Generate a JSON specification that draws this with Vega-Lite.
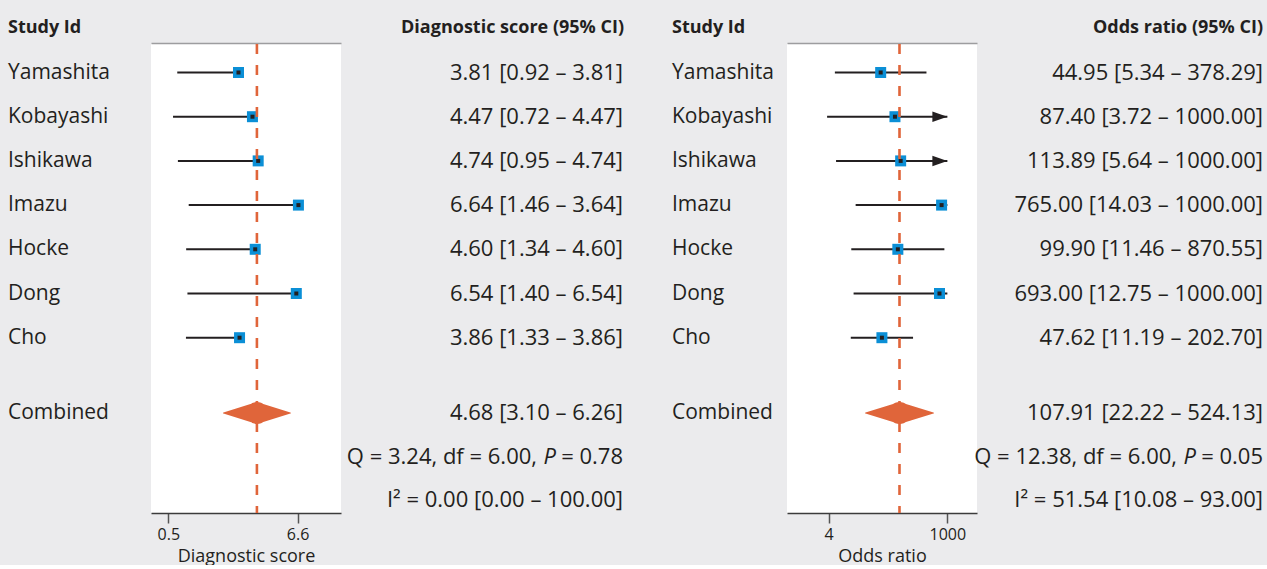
{
  "$schema": "https://vega.github.io/schema/vega-lite/v6.json",
  "background": "#ebebed",
  "padding": {"left": 8, "top": 19, "right": 0, "bottom": 0},
  "datasets": {
    "ds": [
      {"study": "Yamashita", "est": 3.81, "lo": 0.92, "hi": 3.81},
      {"study": "Kobayashi", "est": 4.47, "lo": 0.72, "hi": 4.47},
      {"study": "Ishikawa", "est": 4.74, "lo": 0.95, "hi": 4.74},
      {"study": "Imazu", "est": 6.64, "lo": 1.46, "hi": 3.64},
      {"study": "Hocke", "est": 4.60, "lo": 1.34, "hi": 4.60},
      {"study": "Dong", "est": 6.54, "lo": 1.40, "hi": 6.54},
      {"study": "Cho", "est": 3.86, "lo": 1.33, "hi": 3.86}
    ],
    "ds_pool": [
      {"item": "Combined", "est": 4.68, "lo": 3.10, "hi": 6.26, "Q": 3.24, "df": 6.00, "P": 0.78, "I2": 0.00, "I2lo": 0.00, "I2hi": 100.00}
    ],
    "or": [
      {"study": "Yamashita", "est": 44.95, "lo": 5.34, "hi": 378.29, "arrow": false},
      {"study": "Kobayashi", "est": 87.40, "lo": 3.72, "hi": 1000.00, "arrow": true},
      {"study": "Ishikawa", "est": 113.89, "lo": 5.64, "hi": 1000.00, "arrow": true},
      {"study": "Imazu", "est": 765.00, "lo": 14.03, "hi": 1000.00, "arrow": false},
      {"study": "Hocke", "est": 99.90, "lo": 11.46, "hi": 870.55, "arrow": false},
      {"study": "Dong", "est": 693.00, "lo": 12.75, "hi": 1000.00, "arrow": false},
      {"study": "Cho", "est": 47.62, "lo": 11.19, "hi": 202.70, "arrow": false}
    ],
    "or_pool": [
      {"item": "Combined", "est": 107.91, "lo": 22.22, "hi": 524.13, "Q": 12.38, "df": 6.00, "P": 0.05, "I2": 51.54, "I2lo": 10.08, "I2hi": 93.00}
    ]
  },
  "config": {
    "font": "Open Sans",
    "view": {"stroke": null},
    "text": {"font": "Open Sans", "color": "#231f20", "baseline": "middle"},
    "title": {"font": "Open Sans", "fontSize": 18, "fontWeight": "bold", "color": "#231f20", "offset": 7, "frame": "group"},
    "axis": {"labelFont": "Open Sans", "titleFont": "Open Sans", "grid": false}
  },
  "spacing": 44,
  "hconcat": [
    {
      "spacing": 0,
      "bounds": "flush",
      "hconcat": [
        {
          "width": 143, "height": 469,
          "title": {"text": "Study Id", "anchor": "start"},
          "layer": [
            {
              "data": {"name": "ds"},
              "mark": {"type": "text", "align": "left", "fontSize": 21},
              "encoding": {
                "x": {"datum": 0, "type": "quantitative", "scale": {"domain": [0, 1]}, "axis": {"orient": "top", "domain": true, "domainColor": "#9d9d9f", "domainWidth": 1.6, "ticks": false, "labels": false, "title": null, "grid": false, "offset": 1}},
                "y": {"field": "study", "type": "nominal", "sort": null, "scale": {"type": "point", "range": [28.5, 293.7], "padding": 0}, "axis": null},
                "text": {"field": "study"}
              }
            },
            {
              "data": {"name": "ds_pool"},
              "mark": {"type": "text", "align": "left", "fontSize": 21},
              "encoding": {
                "x": {"datum": 0, "type": "quantitative", "axis": null},
                "y": {"field": "item", "type": "nominal", "scale": {"type": "point", "domain": ["Combined", "Q", "I2"], "range": [369, 456], "padding": 0}, "axis": null},
                "text": {"field": "item"}
              }
            }
          ],
          "resolve": {"scale": {"y": "independent"}}
        },
        {
          "width": 190, "height": 469,
          "view": {"fill": "white"},
          "layer": [
            {
              "data": {"name": "ds"},
              "mark": {"type": "rule", "color": "#231f20", "strokeWidth": 2},
              "encoding": {
                "x": {"field": "lo", "type": "quantitative", "scale": {"domain": [-0.32, 8.65], "nice": false, "zero": false},
                  "axis": {"orient": "bottom", "values": [0.5, 6.6], "format": ".1f", "title": "Diagnostic score", "domainColor": "#3c3c3c", "domainWidth": 1.5, "tickColor": "#555555", "tickWidth": 1.5, "tickSize": 10, "labelFontSize": 16, "labelColor": "#231f20", "labelPadding": 3, "labelFlush": false, "titleFontSize": 18, "titleFontWeight": "normal", "titleColor": "#231f20", "titlePadding": 5, "grid": false}},
                "x2": {"field": "est"},
                "y": {"field": "study", "type": "nominal", "sort": null, "scale": {"type": "point", "range": [28.5, 293.7], "padding": 0}, "axis": null}
              }
            },
            {
              "data": {"name": "ds"},
              "mark": {"type": "point", "shape": "square", "filled": true, "size": 121, "color": "#0b8fd6", "opacity": 1},
              "encoding": {
                "x": {"field": "est", "type": "quantitative", "axis": {"orient": "top", "domain": true, "domainColor": "#9d9d9f", "domainWidth": 1.6, "ticks": false, "labels": false, "title": null, "grid": false, "offset": 1}},
                "y": {"field": "study", "type": "nominal", "sort": null, "scale": {"type": "point", "range": [28.5, 293.7], "padding": 0}, "axis": null}
              }
            },
            {
              "data": {"name": "ds"},
              "mark": {"type": "point", "shape": "square", "filled": true, "size": 16, "color": "#231f20", "opacity": 1},
              "encoding": {
                "x": {"field": "est", "type": "quantitative", "axis": null},
                "y": {"field": "study", "type": "nominal", "sort": null, "scale": {"type": "point", "range": [28.5, 293.7], "padding": 0}, "axis": null}
              }
            },
            {
              "data": {"name": "ds_pool"},
              "mark": {"type": "rule", "color": "#e0653a", "strokeWidth": 2.6, "strokeDash": [10, 11]},
              "encoding": {
                "x": {"field": "est", "type": "quantitative", "axis": null}
              }
            },
            {
              "data": {"name": "ds_pool"},
              "transform": [{"fold": ["lo", "est", "hi"], "as": ["k", "v"]}],
              "mark": {"type": "trail", "color": "#e0653a"},
              "encoding": {
                "x": {"field": "v", "type": "quantitative", "axis": null},
                "y": {"field": "item", "type": "nominal", "scale": {"type": "point", "domain": ["Combined", "Q", "I2"], "range": [369, 456], "padding": 0}, "axis": null},
                "size": {"field": "k", "type": "ordinal", "scale": {"type": "ordinal", "domain": ["lo", "est", "hi"], "range": [0, 22, 0]}, "legend": null},
                "order": {"field": "v", "type": "quantitative"}
              }
            }
          ],
          "resolve": {"scale": {"y": "independent"}, "axis": {"x": "independent"}}
        },
        {
          "width": 287, "height": 469,
          "title": {"text": "Diagnostic score (95% CI)", "anchor": "end", "dx": -4},
          "layer": [
            {
              "data": {"name": "ds"},
              "transform": [{"calculate": "format(datum.est,'.2f') + ' [' + format(datum.lo,'.2f') + ' – ' + format(datum.hi,'.2f') + ']'", "as": "lab"}],
              "mark": {"type": "text", "align": "right", "fontSize": 22, "dx": -5},
              "encoding": {
                "x": {"datum": 1, "type": "quantitative", "scale": {"domain": [0, 1]}, "axis": {"orient": "top", "domain": true, "domainColor": "#9d9d9f", "domainWidth": 1.6, "ticks": false, "labels": false, "title": null, "grid": false, "offset": 1}},
                "y": {"field": "study", "type": "nominal", "sort": null, "scale": {"type": "point", "range": [28.5, 293.7], "padding": 0}, "axis": null},
                "text": {"field": "lab"}
              }
            },
            {
              "data": {"name": "ds_pool"},
              "transform": [{"calculate": "format(datum.est,'.2f') + ' [' + format(datum.lo,'.2f') + ' – ' + format(datum.hi,'.2f') + ']'", "as": "lab"}],
              "mark": {"type": "text", "align": "right", "fontSize": 22, "dx": -5},
              "encoding": {
                "x": {"datum": 1, "type": "quantitative", "axis": null},
                "y": {"datum": "Combined", "type": "nominal", "scale": {"type": "point", "domain": ["Combined", "Q", "I2"], "range": [369, 456], "padding": 0}, "axis": null},
                "text": {"field": "lab"}
              }
            },
            {
              "data": {"name": "ds_pool"},
              "transform": [{"calculate": "'Q = ' + format(datum.Q,'.2f') + ', df = ' + format(datum.df,'.2f') + ','", "as": "t"}],
              "mark": {"type": "text", "align": "right", "fontSize": 22, "dx": -91},
              "encoding": {
                "x": {"datum": 1, "type": "quantitative", "axis": null},
                "y": {"datum": "Q", "type": "nominal", "scale": {"type": "point", "domain": ["Combined", "Q", "I2"], "range": [369, 456], "padding": 0}, "axis": null},
                "text": {"field": "t"}
              }
            },
            {
              "data": {"name": "ds_pool"},
              "mark": {"type": "text", "align": "right", "fontSize": 22, "fontStyle": "italic", "dx": -72},
              "encoding": {
                "x": {"datum": 1, "type": "quantitative", "axis": null},
                "y": {"datum": "Q", "type": "nominal", "scale": {"type": "point", "domain": ["Combined", "Q", "I2"], "range": [369, 456], "padding": 0}, "axis": null},
                "text": {"value": "P"}
              }
            },
            {
              "data": {"name": "ds_pool"},
              "transform": [{"calculate": "'= ' + format(datum.P,'.2f')", "as": "t"}],
              "mark": {"type": "text", "align": "right", "fontSize": 22, "dx": -5},
              "encoding": {
                "x": {"datum": 1, "type": "quantitative", "axis": null},
                "y": {"datum": "Q", "type": "nominal", "scale": {"type": "point", "domain": ["Combined", "Q", "I2"], "range": [369, 456], "padding": 0}, "axis": null},
                "text": {"field": "t"}
              }
            },
            {
              "data": {"name": "ds_pool"},
              "transform": [{"calculate": "'I² = ' + format(datum.I2,'.2f') + ' [' + format(datum.I2lo,'.2f') + ' – ' + format(datum.I2hi,'.2f') + ']'", "as": "t"}],
              "mark": {"type": "text", "align": "right", "fontSize": 22, "dx": -5},
              "encoding": {
                "x": {"datum": 1, "type": "quantitative", "axis": null},
                "y": {"datum": "I2", "type": "nominal", "scale": {"type": "point", "domain": ["Combined", "Q", "I2"], "range": [369, 456], "padding": 0}, "axis": null},
                "text": {"field": "t"}
              }
            }
          ],
          "resolve": {"scale": {"y": "independent"}}
        }
      ]
    },
    {
      "spacing": 0,
      "bounds": "flush",
      "hconcat": [
        {
          "width": 115, "height": 469,
          "title": {"text": "Study Id", "anchor": "start"},
          "layer": [
            {
              "data": {"name": "or"},
              "mark": {"type": "text", "align": "left", "fontSize": 21},
              "encoding": {
                "x": {"datum": 0, "type": "quantitative", "scale": {"domain": [0, 1]}, "axis": {"orient": "top", "domain": true, "domainColor": "#9d9d9f", "domainWidth": 1.6, "ticks": false, "labels": false, "title": null, "grid": false, "offset": 1}},
                "y": {"field": "study", "type": "nominal", "sort": null, "scale": {"type": "point", "range": [28.5, 293.7], "padding": 0}, "axis": null},
                "text": {"field": "study"}
              }
            },
            {
              "data": {"name": "or_pool"},
              "mark": {"type": "text", "align": "left", "fontSize": 21},
              "encoding": {
                "x": {"datum": 0, "type": "quantitative", "axis": null},
                "y": {"field": "item", "type": "nominal", "scale": {"type": "point", "domain": ["Combined", "Q", "I2"], "range": [369, 456], "padding": 0}, "axis": null},
                "text": {"field": "item"}
              }
            }
          ],
          "resolve": {"scale": {"y": "independent"}}
        },
        {
          "width": 190, "height": 469,
          "view": {"fill": "white"},
          "layer": [
            {
              "data": {"name": "or"},
              "mark": {"type": "rule", "color": "#231f20", "strokeWidth": 2},
              "encoding": {
                "x": {"field": "lo", "type": "quantitative", "scale": {"type": "log", "domain": [0.576, 3970], "nice": false},
                  "axis": {"orient": "bottom", "values": [4, 1000], "format": "d", "title": "Odds ratio", "domainColor": "#3c3c3c", "domainWidth": 1.5, "tickColor": "#555555", "tickWidth": 1.5, "tickSize": 10, "labelFontSize": 16, "labelColor": "#231f20", "labelPadding": 3, "labelFlush": false, "titleFontSize": 18, "titleFontWeight": "normal", "titleColor": "#231f20", "titlePadding": 5, "grid": false}},
                "x2": {"field": "hi"},
                "y": {"field": "study", "type": "nominal", "sort": null, "scale": {"type": "point", "range": [28.5, 293.7], "padding": 0}, "axis": null}
              }
            },
            {
              "data": {"name": "or"},
              "transform": [{"filter": "datum.arrow"}],
              "mark": {"type": "point", "shape": "M -2 -0.7 L 0 0 L -2 0.7 Z", "filled": true, "size": 225, "color": "#231f20", "opacity": 1},
              "encoding": {
                "x": {"field": "hi", "type": "quantitative", "axis": null},
                "y": {"field": "study", "type": "nominal", "sort": null, "scale": {"type": "point", "domain": ["Yamashita", "Kobayashi", "Ishikawa", "Imazu", "Hocke", "Dong", "Cho"], "range": [28.5, 293.7], "padding": 0}, "axis": null}
              }
            },
            {
              "data": {"name": "or"},
              "mark": {"type": "point", "shape": "square", "filled": true, "size": 121, "color": "#0b8fd6", "opacity": 1},
              "encoding": {
                "x": {"field": "est", "type": "quantitative", "axis": {"orient": "top", "domain": true, "domainColor": "#9d9d9f", "domainWidth": 1.6, "ticks": false, "labels": false, "title": null, "grid": false, "offset": 1}},
                "y": {"field": "study", "type": "nominal", "sort": null, "scale": {"type": "point", "range": [28.5, 293.7], "padding": 0}, "axis": null}
              }
            },
            {
              "data": {"name": "or"},
              "mark": {"type": "point", "shape": "square", "filled": true, "size": 16, "color": "#231f20", "opacity": 1},
              "encoding": {
                "x": {"field": "est", "type": "quantitative", "axis": null},
                "y": {"field": "study", "type": "nominal", "sort": null, "scale": {"type": "point", "range": [28.5, 293.7], "padding": 0}, "axis": null}
              }
            },
            {
              "data": {"name": "or_pool"},
              "mark": {"type": "rule", "color": "#e0653a", "strokeWidth": 2.6, "strokeDash": [10, 11]},
              "encoding": {
                "x": {"field": "est", "type": "quantitative", "axis": null}
              }
            },
            {
              "data": {"name": "or_pool"},
              "transform": [{"fold": ["lo", "est", "hi"], "as": ["k", "v"]}],
              "mark": {"type": "trail", "color": "#e0653a"},
              "encoding": {
                "x": {"field": "v", "type": "quantitative", "axis": null},
                "y": {"field": "item", "type": "nominal", "scale": {"type": "point", "domain": ["Combined", "Q", "I2"], "range": [369, 456], "padding": 0}, "axis": null},
                "size": {"field": "k", "type": "ordinal", "scale": {"type": "ordinal", "domain": ["lo", "est", "hi"], "range": [0, 22, 0]}, "legend": null},
                "order": {"field": "v", "type": "quantitative"}
              }
            }
          ],
          "resolve": {"scale": {"y": "independent"}, "axis": {"x": "independent"}}
        },
        {
          "width": 290, "height": 469,
          "title": {"text": "Odds ratio (95% CI)", "anchor": "end", "dx": -4},
          "layer": [
            {
              "data": {"name": "or"},
              "transform": [{"calculate": "format(datum.est,'.2f') + ' [' + format(datum.lo,'.2f') + ' – ' + format(datum.hi,'.2f') + ']'", "as": "lab"}],
              "mark": {"type": "text", "align": "right", "fontSize": 22, "dx": -4},
              "encoding": {
                "x": {"datum": 1, "type": "quantitative", "scale": {"domain": [0, 1]}, "axis": {"orient": "top", "domain": true, "domainColor": "#9d9d9f", "domainWidth": 1.6, "ticks": false, "labels": false, "title": null, "grid": false, "offset": 1}},
                "y": {"field": "study", "type": "nominal", "sort": null, "scale": {"type": "point", "range": [28.5, 293.7], "padding": 0}, "axis": null},
                "text": {"field": "lab"}
              }
            },
            {
              "data": {"name": "or_pool"},
              "transform": [{"calculate": "format(datum.est,'.2f') + ' [' + format(datum.lo,'.2f') + ' – ' + format(datum.hi,'.2f') + ']'", "as": "lab"}],
              "mark": {"type": "text", "align": "right", "fontSize": 22, "dx": -4},
              "encoding": {
                "x": {"datum": 1, "type": "quantitative", "axis": null},
                "y": {"datum": "Combined", "type": "nominal", "scale": {"type": "point", "domain": ["Combined", "Q", "I2"], "range": [369, 456], "padding": 0}, "axis": null},
                "text": {"field": "lab"}
              }
            },
            {
              "data": {"name": "or_pool"},
              "transform": [{"calculate": "'Q = ' + format(datum.Q,'.2f') + ', df = ' + format(datum.df,'.2f') + ','", "as": "t"}],
              "mark": {"type": "text", "align": "right", "fontSize": 22, "dx": -90},
              "encoding": {
                "x": {"datum": 1, "type": "quantitative", "axis": null},
                "y": {"datum": "Q", "type": "nominal", "scale": {"type": "point", "domain": ["Combined", "Q", "I2"], "range": [369, 456], "padding": 0}, "axis": null},
                "text": {"field": "t"}
              }
            },
            {
              "data": {"name": "or_pool"},
              "mark": {"type": "text", "align": "right", "fontSize": 22, "fontStyle": "italic", "dx": -71},
              "encoding": {
                "x": {"datum": 1, "type": "quantitative", "axis": null},
                "y": {"datum": "Q", "type": "nominal", "scale": {"type": "point", "domain": ["Combined", "Q", "I2"], "range": [369, 456], "padding": 0}, "axis": null},
                "text": {"value": "P"}
              }
            },
            {
              "data": {"name": "or_pool"},
              "transform": [{"calculate": "'= ' + format(datum.P,'.2f')", "as": "t"}],
              "mark": {"type": "text", "align": "right", "fontSize": 22, "dx": -4},
              "encoding": {
                "x": {"datum": 1, "type": "quantitative", "axis": null},
                "y": {"datum": "Q", "type": "nominal", "scale": {"type": "point", "domain": ["Combined", "Q", "I2"], "range": [369, 456], "padding": 0}, "axis": null},
                "text": {"field": "t"}
              }
            },
            {
              "data": {"name": "or_pool"},
              "transform": [{"calculate": "'I² = ' + format(datum.I2,'.2f') + ' [' + format(datum.I2lo,'.2f') + ' – ' + format(datum.I2hi,'.2f') + ']'", "as": "t"}],
              "mark": {"type": "text", "align": "right", "fontSize": 22, "dx": -4},
              "encoding": {
                "x": {"datum": 1, "type": "quantitative", "axis": null},
                "y": {"datum": "I2", "type": "nominal", "scale": {"type": "point", "domain": ["Combined", "Q", "I2"], "range": [369, 456], "padding": 0}, "axis": null},
                "text": {"field": "t"}
              }
            }
          ],
          "resolve": {"scale": {"y": "independent"}}
        }
      ]
    }
  ]
}
